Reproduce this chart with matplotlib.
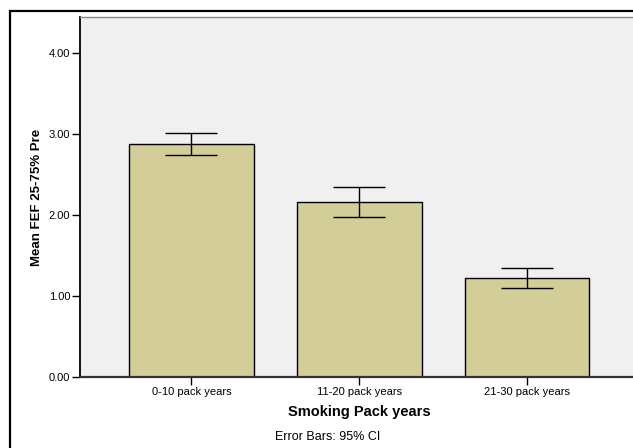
import matplotlib
matplotlib.use("Agg")
import matplotlib.pyplot as plt
from matplotlib.patches import Rectangle

plt.rcParams['font.family'] = ['Liberation Sans', 'DejaVu Sans']

# data
groups = ["0-10 pack years", "11-20 pack years", "21-30 pack years"]
means = [2.875, 2.165, 1.225]
ci_low = [2.735, 1.980, 1.100]
ci_high = [3.015, 2.350, 1.345]
yticks = [0.0, 1.0, 2.0, 3.0, 4.0]

W, H = 633, 448
fig = plt.figure(figsize=(W / 100, H / 100), dpi=100)
fig.patch.set_facecolor("white")

# outer chart frame (cut off on right and bottom in the original)
fig.patches.append(Rectangle((10 / W, -0.1), 1.2, 1 - 11 / H + 0.1,
                             transform=fig.transFigure, fill=False,
                             edgecolor="black", linewidth=1.6))

# axes extends slightly past the right edge like the reference
ax = fig.add_axes([80 / W, 1 - 377 / H, 558.5 / W, 360 / H])
ax.set_facecolor("#F0F0F0")

x = list(range(len(groups)))
ax.bar(x, means, width=0.744, color="#D3CE97", edgecolor="black", linewidth=1.0, zorder=2)
yerr = [[m - lo for m, lo in zip(means, ci_low)], [hi - m for m, hi in zip(means, ci_high)]]
ax.errorbar(x, means, yerr=yerr, fmt="none", ecolor="black", elinewidth=1.0,
            capsize=19, capthick=1.0, zorder=3)

ax.set_xlim(-0.664, 2.664)
ax.set_ylim(0, 4.444)
ax.set_yticks(yticks)
ax.set_yticklabels([f"{v:.2f}" for v in yticks], fontsize=8)
ax.set_xticks(x)
ax.set_xticklabels(groups, fontsize=8)
ax.tick_params(axis="both", direction="out", length=6, width=1, colors="black", pad=1)

ax.spines["left"].set_linewidth(1.3)
ax.spines["bottom"].set_linewidth(1.6)
ax.spines["bottom"].set_color("#333333")
ax.spines["top"].set_color("#888888")
ax.spines["top"].set_linewidth(1.0)
ax.spines["right"].set_visible(False)

ax.set_ylabel("Mean FEF 25-75% Pre", fontsize=9.5, fontweight="bold", labelpad=4)
ax.set_xlabel("Smoking Pack years", fontsize=10.5, fontweight="bold", labelpad=6)

fig.text(328 / W, 1 - 437 / H, "Error Bars: 95% CI", fontsize=9, ha="center", va="center")

fig.savefig("out.png", dpi=100)
